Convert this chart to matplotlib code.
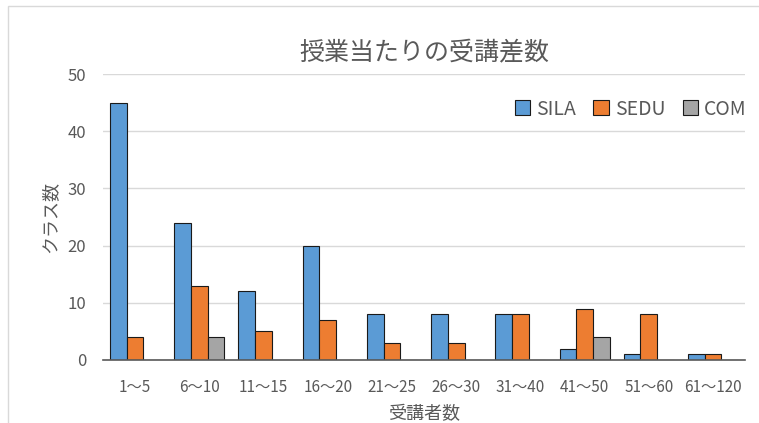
import numpy as np
import matplotlib.pyplot as plt
from matplotlib.patches import Rectangle

plt.rcParams['font.family'] = ['Noto Sans CJK JP', 'DejaVu Sans']

# data
categories = ['1～5', '6～10', '11～15', '16～20', '21～25', '26～30',
              '31～40', '41～50', '51～60', '61～120']
sila = [45, 24, 12, 20, 8, 8, 8, 2, 1, 1]
sedu = [4, 13, 5, 7, 3, 3, 8, 9, 8, 1]
com = [0, 4, 0, 0, 0, 0, 0, 4, 0, 0]

txt = '#595959'
fig = plt.figure(figsize=(7.59, 4.23), dpi=100)
ax = fig.add_axes([0.1357, 0.149, 0.846, 0.676])

# chart frame
fig.patches.append(Rectangle((8 / 759, -0.1), 1.0, 1 - 6 / 423 + 0.1,
                             transform=fig.transFigure, fill=False,
                             edgecolor='#D9D9D9', linewidth=1))

x = np.arange(len(categories))
w = 0.26
ax.bar(x - w, sila, w, color='#5B9BD5', edgecolor='#1a1a1a', linewidth=0.8, label='SILA')
ax.bar(x, sedu, w, color='#ED7D31', edgecolor='#1a1a1a', linewidth=0.8, label='SEDU')
ax.bar(x + w, com, w, color='#A5A5A5', edgecolor='#1a1a1a', linewidth=0.8, label='COM')

ax.set_xlim(-0.5, len(categories) - 0.5)
ax.set_ylim(0, 50)
ax.set_yticks(range(0, 51, 10))
ax.set_xticks(x)
ax.set_xticklabels(categories)
ax.yaxis.grid(True, color='#D9D9D9', linewidth=1)
ax.set_axisbelow(True)
for s in ['top', 'right', 'left']:
    ax.spines[s].set_visible(False)
ax.spines['bottom'].set_color('#595959')
ax.spines['bottom'].set_linewidth(1.2)
ax.tick_params(axis='both', length=0, colors=txt)
ax.tick_params(axis='x', pad=14, labelsize=11)
ax.tick_params(axis='y', pad=12, labelsize=12)

ax.set_title('授業当たりの受講差数', fontsize=18, color=txt, pad=10)
ax.set_xlabel('受講者数', fontsize=13, color=txt, labelpad=6)
ax.set_ylabel('クラス数', fontsize=13, color=txt, labelpad=6)

leg = ax.legend(loc='upper right', ncol=3, frameon=False, fontsize=14,
                handlelength=0.8, handleheight=0.8, handletextpad=0.3,
                columnspacing=0.9, bbox_to_anchor=(1.03, 0.975), labelcolor=txt)

fig.savefig('out.png', dpi=100)
